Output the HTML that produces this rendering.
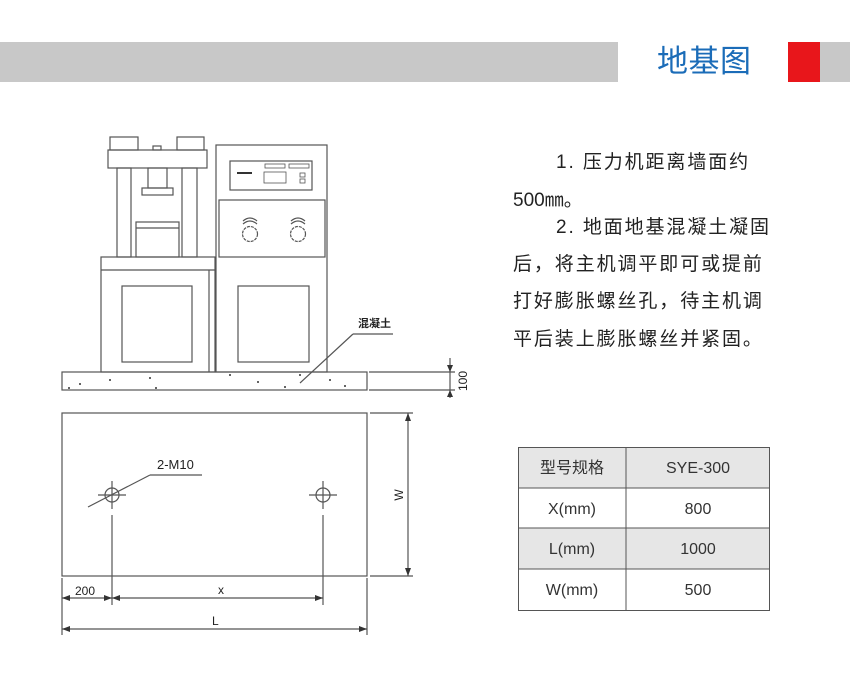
<!DOCTYPE html>
<html><head><meta charset="utf-8"><style>
html,body{margin:0;padding:0;background:#fff;width:850px;height:700px;overflow:hidden}
.t{position:absolute;font-family:"Liberation Sans","Noto Sans CJK SC",sans-serif;color:#222;font-size:19px;letter-spacing:1.9px;white-space:nowrap;line-height:1}
</style></head><body>
<div style="position:absolute;left:0;top:42px;width:618px;height:40px;background:#c8c8c8"></div>
<div style="position:absolute;left:788px;top:42px;width:32px;height:40px;background:#e8161b"></div>
<div style="position:absolute;left:820px;top:42px;width:30px;height:40px;background:#c8c8c8"></div>
<div class="t" style="left:657px;top:46px;font-size:31px;color:#1b6cb8;letter-spacing:0.5px">地基图</div>

<div class="t" style="left:556px;top:153px">1. 压力机距离墙面约</div>
<div class="t" style="left:513px;top:191px;letter-spacing:0">500㎜。</div>
<div class="t" style="left:556px;top:218px">2. 地面地基混凝土凝固</div>
<div class="t" style="left:513px;top:255px">后，将主机调平即可或提前</div>
<div class="t" style="left:513px;top:292px">打好膨胀螺丝孔，待主机调</div>
<div class="t" style="left:513px;top:330px">平后装上膨胀螺丝并紧固。</div>

<svg width="850" height="700" style="position:absolute;left:0;top:0" font-family="Liberation Sans, Noto Sans CJK SC, sans-serif">
<g fill="none" stroke="#555" stroke-width="1.2">
<rect x="110" y="137" width="28" height="13"/><rect x="177" y="137" width="27" height="13"/>
<rect x="153" y="146" width="8" height="4"/>
<rect x="108" y="150" width="99" height="18"/>
<rect x="117" y="168" width="14" height="89"/><rect x="182" y="168" width="15" height="89"/>
<rect x="148" y="168" width="19" height="20"/><rect x="142" y="188" width="31" height="7"/>
<rect x="136" y="222" width="43" height="35"/><line x1="136" y1="228" x2="179" y2="228"/>
<rect x="101" y="257" width="114" height="115"/><line x1="101" y1="270" x2="215" y2="270"/>
<line x1="209" y1="270" x2="209" y2="372"/>
<rect x="122" y="286" width="70" height="76"/>
<rect x="216" y="145" width="111" height="227"/>
<rect x="230" y="161" width="82" height="29"/>
<rect x="219" y="200" width="106" height="57"/>
<rect x="238" y="286" width="71" height="76"/>
<circle cx="250" cy="234" r="7.5" stroke-dasharray="3 1"/><circle cx="298" cy="234" r="7.5" stroke-dasharray="3 1"/>
<path d="M243 221 Q250 215 257 221 M243 224 Q250 218 257 224 M291 221 Q298 215 305 221 M291 224 Q298 218 305 224"/>
<rect x="62" y="372" width="305" height="18"/>
<line x1="369" y1="372" x2="455" y2="372"/><line x1="369" y1="390" x2="455" y2="390"/>
<line x1="450" y1="358" x2="450" y2="398"/>
<line x1="353" y1="334" x2="393" y2="334"/><line x1="353" y1="334" x2="300" y2="383"/>
<rect x="62" y="413" width="305" height="163"/>
<line x1="370" y1="413" x2="413" y2="413"/><line x1="370" y1="576" x2="413" y2="576"/>
<line x1="408" y1="413" x2="408" y2="576"/>
<circle cx="112" cy="495" r="7"/><circle cx="323" cy="495" r="7"/>
<line x1="98" y1="495" x2="126" y2="495"/><line x1="112" y1="481" x2="112" y2="509"/>
<line x1="309" y1="495" x2="337" y2="495"/><line x1="323" y1="481" x2="323" y2="509"/>
<line x1="112" y1="515" x2="112" y2="605"/><line x1="323" y1="515" x2="323" y2="605"/>
<line x1="62" y1="578" x2="62" y2="635"/><line x1="367" y1="578" x2="367" y2="635"/>
<line x1="62" y1="598" x2="323" y2="598"/>
<line x1="62" y1="629" x2="367" y2="629"/>
<line x1="150" y1="475" x2="202" y2="475"/><line x1="150" y1="475" x2="88" y2="507"/>
</g>
<g fill="#333">
<rect x="237" y="172" width="15" height="2"/>
<rect x="264" y="172" width="22" height="11" fill="none" stroke="#555" stroke-width="0.8"/>
<rect x="265" y="164" width="20" height="4" fill="none" stroke="#555" stroke-width="0.8"/>
<rect x="289" y="164" width="20" height="4" fill="none" stroke="#555" stroke-width="0.8"/>
<rect x="300" y="173" width="5" height="4" fill="none" stroke="#555" stroke-width="0.8"/>
<rect x="300" y="179" width="5" height="4" fill="none" stroke="#555" stroke-width="0.8"/>
<circle cx="80" cy="384" r="1"/><circle cx="150" cy="378" r="1"/><circle cx="156" cy="388" r="1"/><circle cx="230" cy="375" r="1"/><circle cx="258" cy="382" r="1"/><circle cx="285" cy="387" r="1"/><circle cx="300" cy="375" r="1"/><circle cx="330" cy="380" r="1"/><circle cx="345" cy="386" r="1"/><circle cx="110" cy="380" r="1"/><circle cx="69" cy="388" r="1"/>
<path d="M450 372 l-3 -7 h6z M450 390 l-3 7 h6z M408 413 l-3 8 h6z M408 576 l-3 -8 h6z M62 598 l8 -3 v6z M112 598 l-8 -3 v6z M112 598 l8 -3 v6z M323 598 l-8 -3 v6z M62 629 l8 -3 v6z M367 629 l-8 -3 v6z"/>
</g>
<text x="358" y="327" font-size="11" font-weight="bold" fill="#222">混凝土</text>
<text x="467" y="381" font-size="12" fill="#222" transform="rotate(-90 467 381)" text-anchor="middle">100</text>
<text x="403" y="495" font-size="12" fill="#222" transform="rotate(-90 403 495)" text-anchor="middle">W</text>
<text x="157" y="469" font-size="13" fill="#222">2-M10</text>
<text x="75" y="595" font-size="12" fill="#222">200</text>
<text x="218" y="594" font-size="12" fill="#222">x</text>
<text x="212" y="625" font-size="12" fill="#222">L</text>
<rect x="518" y="447" width="252" height="41" fill="#e6e6e6"/>
<rect x="518" y="528" width="252" height="41" fill="#e6e6e6"/>
<g stroke="#555" stroke-width="1" fill="none">
<rect x="518.5" y="447.5" width="251" height="163"/>
<line x1="518" y1="488" x2="770" y2="488"/><line x1="518" y1="528" x2="770" y2="528"/><line x1="518" y1="569" x2="770" y2="569"/>
<line x1="626" y1="447" x2="626" y2="610"/>
</g>
<g font-size="16" fill="#333" text-anchor="middle">
<text x="572" y="473">型号规格</text><text x="698" y="473">SYE-300</text>
<text x="572" y="514">X(mm)</text><text x="698" y="514">800</text>
<text x="572" y="554">L(mm)</text><text x="698" y="554">1000</text>
<text x="572" y="595">W(mm)</text><text x="698" y="595">500</text>
</g>
</svg>
</body></html>
